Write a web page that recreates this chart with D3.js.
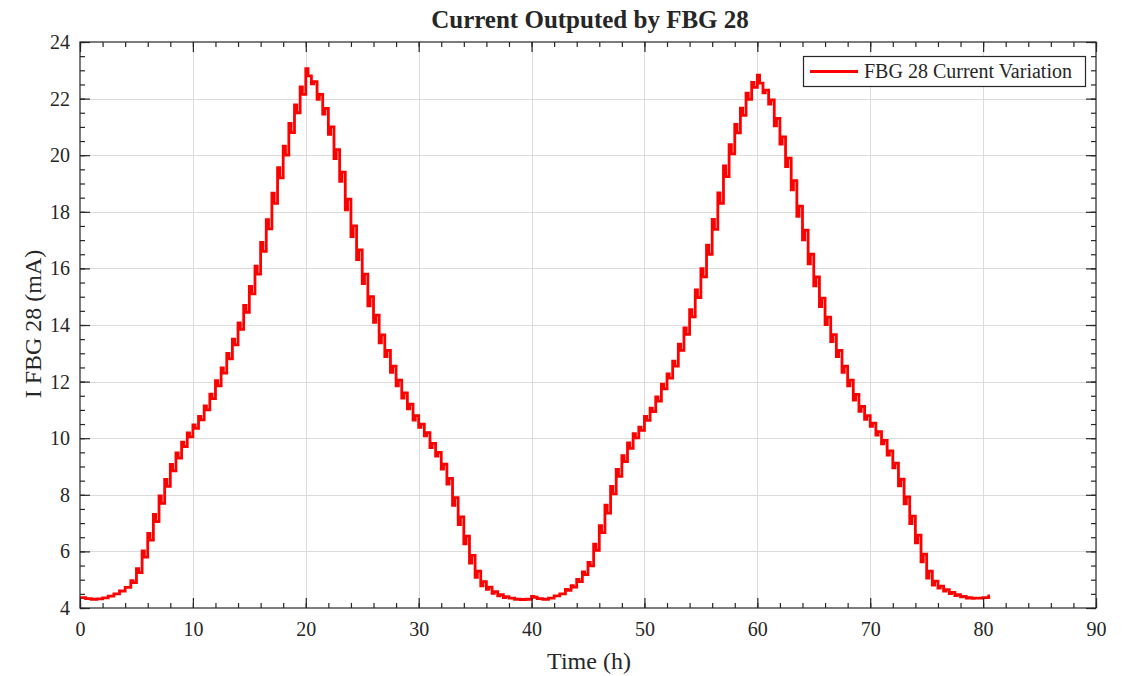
<!DOCTYPE html>
<html>
<head>
<meta charset="utf-8">
<script src="https://d3js.org/d3.v7.min.js"></script>
<style>
  html, body { margin: 0; padding: 0; background: #ffffff; }
  svg { display: block; }
  text { font-family: "Liberation Serif", "Times New Roman", serif; fill: #262626; }
</style>
</head>
<body>
<svg id="chart" width="1134" height="676"></svg>
<script>
// ---------- data ----------
const chartTitle = "Current Outputed by FBG 28";
const xLabel = "Time (h)";
const yLabel = "I FBG 28 (mA)";
const seriesName = "FBG 28 Current Variation";

const xTicks = [0, 10, 20, 30, 40, 50, 60, 70, 80, 90];
const yTicks = [4, 6, 8, 10, 12, 14, 16, 18, 20, 22, 24];

// time of each step start (h), every half hour
const stepTimes = [
  0,0.5,1,1.5,2,2.5,3,3.5,4,4.5,5,5.5,6,6.5,7,7.5,8,8.5,9,9.5,
  10,10.5,11,11.5,12,12.5,13,13.5,14,14.5,15,15.5,16,16.5,17,17.5,18,18.5,19,19.5,
  20,20.5,21,21.5,22,22.5,23,23.5,24,24.5,25,25.5,26,26.5,27,27.5,28,28.5,29,29.5,
  30,30.5,31,31.5,32,32.5,33,33.5,34,34.5,35,35.5,36,36.5,37,37.5,38,38.5,39,39.5,
  40,40.5,41,41.5,42,42.5,43,43.5,44,44.5,45,45.5,46,46.5,47,47.5,48,48.5,49,49.5,
  50,50.5,51,51.5,52,52.5,53,53.5,54,54.5,55,55.5,56,56.5,57,57.5,58,58.5,59,59.5,
  60,60.5,61,61.5,62,62.5,63,63.5,64,64.5,65,65.5,66,66.5,67,67.5,68,68.5,69,69.5,
  70,70.5,71,71.5,72,72.5,73,73.5,74,74.5,75,75.5,76,76.5,77,77.5,78,78.5,79,79.5,
  80,80.5
];
// settled current level of each step (mA)
const levels = [
  4.37,4.33,4.31,4.32,4.36,4.42,4.50,4.60,4.73,4.90,5.25,5.80,6.40,7.05,7.70,8.30,8.85,9.30,9.70,10.05,
  10.35,10.65,11.00,11.40,11.85,12.30,12.80,13.30,13.85,14.45,15.10,15.80,16.60,17.40,18.30,19.20,20.00,20.80,21.50,22.15,
  22.80,22.60,22.15,21.65,21.00,20.20,19.40,18.45,17.50,16.65,15.80,15.00,14.35,13.65,13.10,12.55,12.05,11.60,11.20,10.80,
  10.50,10.20,9.82,9.50,9.08,8.58,7.90,7.22,6.54,5.86,5.30,4.93,4.74,4.58,4.47,4.40,4.35,4.31,4.30,4.31,
  4.38,4.33,4.31,4.35,4.43,4.50,4.62,4.74,4.93,5.18,5.49,6.04,6.66,7.35,8.03,8.65,9.17,9.64,10.01,10.28,
  10.63,10.94,11.31,11.74,12.12,12.55,13.10,13.67,14.29,14.97,15.70,16.50,17.38,18.30,19.24,20.05,20.79,21.41,21.97,22.40,
  22.55,22.30,21.95,21.30,20.65,19.90,19.10,18.20,17.35,16.50,15.70,14.95,14.28,13.66,13.10,12.55,12.05,11.55,11.12,10.80,
  10.53,10.23,9.92,9.55,9.12,8.55,7.93,7.25,6.57,5.90,5.30,4.95,4.77,4.65,4.55,4.47,4.41,4.37,4.35,4.35,
  4.37,4.43
];
// transient value reached right after each step change (over/undershoot, mA)
const transients = [
  4.37,4.33,4.31,4.32,4.36,4.42,4.50,4.60,4.73,4.97,5.39,6.02,6.64,7.31,7.96,8.54,9.07,9.48,9.86,10.19,
  10.47,10.77,11.14,11.56,12.03,12.48,13.00,13.50,14.07,14.69,15.36,16.08,16.92,17.72,18.66,19.56,20.32,21.12,21.78,22.41,
  23.06,22.52,21.97,21.45,20.74,19.88,19.08,18.07,17.12,16.31,15.46,14.68,14.09,13.37,12.88,12.33,11.85,11.42,11.04,10.64,
  10.38,10.08,9.67,9.37,8.91,8.38,7.63,6.95,6.27,5.59,5.08,4.78,4.66,4.52,4.43,4.37,4.35,4.31,4.30,4.31,
  4.41,4.33,4.31,4.35,4.43,4.50,4.66,4.79,5.01,5.28,5.61,6.26,6.91,7.63,8.30,8.90,9.38,9.83,10.16,10.39,
  10.77,11.06,11.46,11.91,12.27,12.72,13.32,13.90,14.54,15.24,15.99,16.82,17.73,18.67,19.62,20.37,21.09,21.66,22.19,22.57,
  22.83,22.20,21.81,21.04,20.39,19.60,18.78,17.84,17.01,16.16,15.38,14.65,14.01,13.41,12.88,12.33,11.85,11.35,10.95,10.67,
  10.42,10.11,9.80,9.40,8.95,8.32,7.68,6.98,6.30,5.63,5.06,4.81,4.70,4.60,4.51,4.44,4.39,4.35,4.34,4.35,
  4.37,4.43
];
const endTime = 80.6;

// ---------- layout ----------
const svg = d3.select("#chart");
const W = 1134, H = 676;
const m = { left: 80, right: 1134 - 1096, top: 42, bottom: 676 - 608 };
const iw = W - m.left - m.right, ih = H - m.top - m.bottom;
const axisColor = "#262626";

const x = d3.scaleLinear().domain([0, 90]).range([m.left, m.left + iw]);
const y = d3.scaleLinear().domain([4, 24]).range([m.top + ih, m.top]);

svg.append("rect").attr("x", 0).attr("y", 0).attr("width", W).attr("height", H).attr("fill", "#fff");

// grid
const grid = svg.append("g").attr("stroke", "#dcdcdc").attr("stroke-width", 1);
xTicks.slice(1, -1).forEach(t => grid.append("line")
  .attr("x1", Math.round(x(t)) + 0.5).attr("x2", Math.round(x(t)) + 0.5)
  .attr("y1", m.top).attr("y2", m.top + ih));
yTicks.slice(1, -1).forEach(t => grid.append("line")
  .attr("y1", Math.round(y(t)) + 0.5).attr("y2", Math.round(y(t)) + 0.5)
  .attr("x1", m.left).attr("x2", m.left + iw));

// data line
const pts = [];
stepTimes.forEach((t, i) => {
  pts.push([t, transients[i]]);
  const tEnd = i < stepTimes.length - 1 ? stepTimes[i + 1] : endTime;
  pts.push([Math.min(t + 0.2, tEnd), levels[i]]);
});
pts.push([endTime, levels[levels.length - 1]]);

const line = d3.line().x(d => x(d[0])).y(d => y(d[1])).curve(d3.curveStepAfter);
svg.append("path").datum(pts)
  .attr("d", line)
  .attr("fill", "none")
  .attr("stroke", "#ff0000")
  .attr("stroke-width", 2.8)
  .attr("stroke-linejoin", "miter");

// axes (ticks inward, mirrored on top/right)
const xMinor = d3.range(0, 90.001, 2);
const yMinor = d3.range(4, 24.001, 0.5);
const majLen = 10, minLen = 5;

function styleAxis(g) {
  g.selectAll(".domain").remove();
  g.selectAll("line").attr("stroke", axisColor).attr("stroke-width", 1.2);
  g.selectAll("text").attr("font-family", "Liberation Serif, serif").attr("fill", axisColor);
}

// bottom
svg.append("g").attr("transform", `translate(0,${m.top + ih})`)
  .call(d3.axisBottom(x).tickValues(xMinor).tickSize(-minLen).tickFormat(""))
  .call(styleAxis);
svg.append("g").attr("transform", `translate(0,${m.top + ih})`)
  .call(d3.axisBottom(x).tickValues(xTicks).tickSize(-majLen).tickPadding(14).tickFormat(d3.format("d")))
  .call(styleAxis)
  .selectAll("text").attr("font-size", 20);
// top
svg.append("g").attr("transform", `translate(0,${m.top})`)
  .call(d3.axisTop(x).tickValues(xMinor).tickSize(-minLen).tickFormat(""))
  .call(styleAxis);
svg.append("g").attr("transform", `translate(0,${m.top})`)
  .call(d3.axisTop(x).tickValues(xTicks).tickSize(-majLen).tickFormat(""))
  .call(styleAxis);
// left
svg.append("g").attr("transform", `translate(${m.left},0)`)
  .call(d3.axisLeft(y).tickValues(yMinor).tickSize(-minLen).tickFormat(""))
  .call(styleAxis);
svg.append("g").attr("transform", `translate(${m.left},0)`)
  .call(d3.axisLeft(y).tickValues(yTicks).tickSize(-majLen).tickPadding(10).tickFormat(d3.format("d")))
  .call(styleAxis)
  .selectAll("text").attr("font-size", 20);
// right
svg.append("g").attr("transform", `translate(${m.left + iw},0)`)
  .call(d3.axisRight(y).tickValues(yMinor).tickSize(-minLen).tickFormat(""))
  .call(styleAxis);
svg.append("g").attr("transform", `translate(${m.left + iw},0)`)
  .call(d3.axisRight(y).tickValues(yTicks).tickSize(-majLen).tickFormat(""))
  .call(styleAxis);

// box
svg.append("rect").attr("x", m.left).attr("y", m.top).attr("width", iw).attr("height", ih)
  .attr("fill", "none").attr("stroke", axisColor).attr("stroke-width", 1.2);

// title & labels
svg.append("text").attr("x", 590).attr("y", 28).attr("text-anchor", "middle")
  .attr("font-size", 25).attr("font-weight", "bold").attr("fill", "#000").text(chartTitle);
svg.append("text").attr("x", 589).attr("y", 669).attr("text-anchor", "middle")
  .attr("font-size", 24).text(xLabel);
svg.append("text").attr("transform", `translate(41,324) rotate(-90)`)
  .attr("text-anchor", "middle").attr("font-size", 24).text(yLabel);

// legend
const lg = svg.append("g");
lg.append("rect").attr("x", 803.5).attr("y", 56.5).attr("width", 282).attr("height", 30)
  .attr("fill", "#fff").attr("stroke", axisColor).attr("stroke-width", 1.2);
lg.append("line").attr("x1", 810).attr("x2", 858).attr("y1", 71.5).attr("y2", 71.5)
  .attr("stroke", "#ff0000").attr("stroke-width", 2.8);
lg.append("text").attr("x", 864).attr("y", 78).attr("font-size", 20).text(seriesName);
</script>
</body>
</html>
